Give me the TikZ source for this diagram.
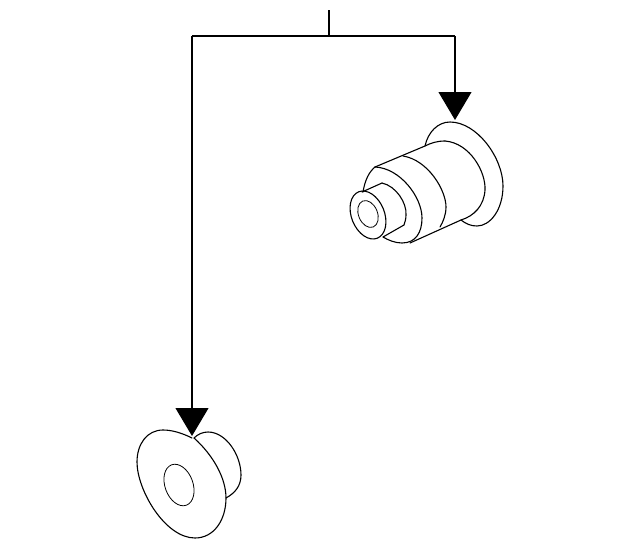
\documentclass[tikz,border=0pt]{standalone}
\usepackage{tikz}
\usetikzlibrary{calc,arrows.meta}
\tikzset{
	leader/.style={line width=1.05pt},
	pointer/.style={leader,-{Triangle[width=33pt,length=28pt]}},
	part/.style={line width=1.1pt,line join=round,line cap=round},
	thin part/.style={line width=.8pt}
}

\begin{document}
\begin{tikzpicture}[x=1pt,y=-1pt]
	\useasboundingbox (0,0) rectangle (640,549);

	\coordinate (top) at (329,10);
	\coordinate (bus) at (329,36);
	\coordinate (left) at (192,36);
	\coordinate (right) at (455,36);
	\coordinate (seal) at (455,120);
	\coordinate (washer) at (192,436);

	%leader lines
	\draw[leader] (top) -- (bus);
	\draw[leader] (left) -- (right);
	\draw[pointer] (right) -- (seal);
	\draw[pointer] (left) -- (washer);

	\begin{scope}[part]
	%upper part, flange
	\draw (425,146) .. controls (428,132) and (438,122) .. (450,122) .. controls (477,122) and (503,158) .. (503,186) .. controls (503,210) and (490,226) .. (477,226) .. controls (471,226) and (466,224) .. (461,220);
	%upper part, outer lines
	\draw (375,167) -- (425,146) .. controls (431,143) and (437,141) .. (445,141);
	\draw (461,220) -- (410,243);
	\draw (445,141) .. controls (470,143) and (486,172) .. (485,190) .. controls (484,206) and (474,216) .. (461,220);
	%upper part, steps
	\draw (403,156) .. controls (428,160) and (446,190) .. (446,207) .. controls (446,215) and (443,222) .. (440,227);
	\draw (375,167) .. controls (400,168) and (422,197) .. (422,218) .. controls (422,232) and (416,243) .. (402,243) .. controls (395,243) and (388,240) .. (383,237);
	\draw (363,192) .. controls (365,180) and (369,172) .. (375,167);
	\draw (362,192) -- (382,183);
	\draw (382,183) .. controls (396,186) and (407,203) .. (406,215) .. controls (406,219) and (405,222) .. (404,225);
	\draw (404,225) -- (383,237);
	%upper part, front face
	\draw[rotate around={22:(368,215)}] (368,215) ellipse[x radius=16.5,y radius=25];
	\draw[thin part,rotate around={22:(368,214)}] (368,214) ellipse[x radius=9.5,y radius=14];
	%lower part
	\draw (192,438) .. controls (182,433) and (172,430) .. (163,430) .. controls (147,430) and (137,444) .. (137,462) .. controls (137,490) and (165,538) .. (195,538) .. controls (214,538) and (226,520) .. (226,498) .. controls (226,478) and (213,455) .. (194,438);
	\draw (194,438) .. controls (198,434) and (203,432) .. (208,432) .. controls (226,432) and (241,455) .. (241,475) .. controls (241,486) and (235,493) .. (226,498);
	\draw[thin part,rotate around={20:(179,485)}] (179,485) ellipse[x radius=14,y radius=21.5];
	\end{scope}
\end{tikzpicture}
\end{document}
